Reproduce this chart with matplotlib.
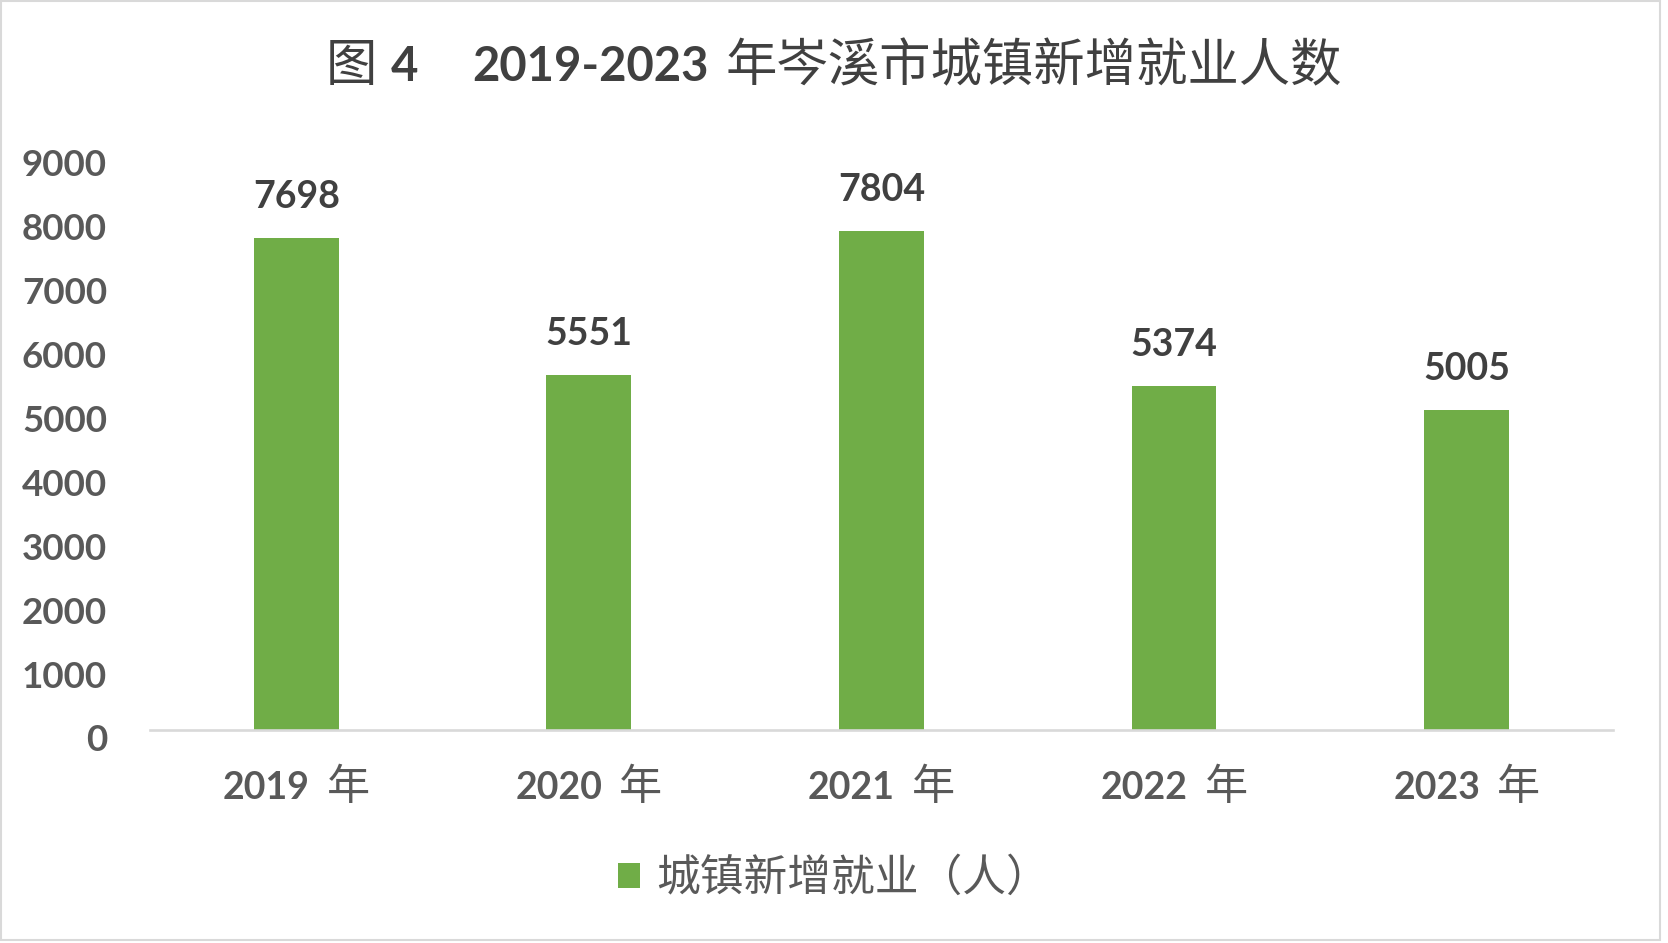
import numpy as np
import matplotlib
matplotlib.use("Agg")
import matplotlib.pyplot as plt
from matplotlib.patches import Rectangle
from matplotlib.transforms import ScaledTranslation
from matplotlib.font_manager import FontProperties

# -----------------------------
# Datos
# -----------------------------
years = ["2019", "2020", "2021", "2022", "2023"]
jobs = [7698, 5551, 7804, 5374, 5005]
yticks = list(range(0, 9001, 1000))
series_name = "城镇新增就业（人）"
title_parts = ["图", "4", "2019-2023", "年岑溪市城镇新增就业人数"]

# -----------------------------
# Estilo
# -----------------------------
LAT = "Lato"
CJK = "Noto Sans CJK SC"
GREEN = "#70AD47"
GRID = "#D9D9D9"
DARK = "#404040"
TICK = "#595959"
DPI = 100

fig = plt.figure(figsize=(16.68, 9.43), dpi=DPI)
px = fig.dpi_scale_trans
ax = fig.add_axes([0.0899, 0.2259, 0.8771, 0.6103])

x = np.arange(len(years))
bars = ax.bar(x, jobs, width=0.29, color=GREEN, zorder=2, label=series_name)
ax.set_xlim(-0.5, len(years) - 0.5)
ax.set_ylim(0, 9000)

for s in ["top", "right", "left"]:
    ax.spines[s].set_visible(False)
ax.spines["bottom"].set_color(GRID)
ax.spines["bottom"].set_linewidth(1.9)

# eje y
ax.set_yticks(yticks, [str(v) for v in yticks], fontfamily=LAT,
              fontweight="bold", fontsize=26.5, color=TICK)
ax.tick_params(axis="y", length=0, pad=31)
for lab in ax.get_yticklabels():
    lab.set_transform(lab.get_transform() + ScaledTranslation(0, -8 / DPI, px))

# eje x
ax.set_xticks(x, years, fontfamily=LAT, fontweight="bold", fontsize=27,
              color=TICK, va="baseline")
ax.tick_params(axis="x", length=0, pad=50)

# etiquetas de datos
for xi, v in zip(x, jobs):
    ax.annotate(str(v), (xi, v), xytext=(0, 30), textcoords="offset pixels",
                ha="center", va="baseline", fontfamily=LAT, fontweight="bold",
                fontsize=27, color=DARK)

# leyenda
fig.legend(handles=[bars], loc="center", bbox_to_anchor=(0.5, 0.069),
           frameon=False, prop=FontProperties(family=CJK, size=31.5),
           handlelength=0.5, handleheight=0.5, handletextpad=0.36,
           labelcolor=TICK)

# borde del gráfico
fig.add_artist(Rectangle((0.0006, 0.0032), 0.9946, 0.9958, transform=fig.transFigure,
                         fill=False, ec=GRID, lw=1.5))

fig.canvas.draw()
r = fig.canvas.get_renderer()

# "年" junto a cada año
gap = 17
for i, lab in enumerate(ax.get_xticklabels()):
    wd = lab.get_window_extent(r).width
    nian = ax.text(i, 0, "年", transform=ax.get_xaxis_transform(), ha="left",
                   va="baseline", fontfamily=CJK, fontsize=31, color=TICK)
    wn = nian.get_window_extent(r).width
    shift = (gap + wn) / 2
    lab.set_transform(lab.get_transform() + ScaledTranslation(-shift / DPI, 0, px))
    nian.set_transform(ax.get_xaxis_transform()
                       + ScaledTranslation((wd / 2 - shift + gap) / DPI, -70 / DPI, px))

# título con pesos mezclados
styles = [(CJK, "normal", 37), (LAT, "bold", 34), (LAT, "bold", 34), (CJK, "normal", 37)]
gaps = [13, 54, 17, 0]
texts = []
for txt, (fam, w, size) in zip(title_parts, styles):
    t = fig.text(0, 0.914, txt, ha="left", va="baseline", fontfamily=fam,
                 fontweight=w, fontsize=size, color=DARK)
    texts.append(t)
widths = [t.get_window_extent(r).width for t in texts]
total = sum(widths) + sum(gaps[:-1])
cur = fig.bbox.width * 0.5 - total / 2
for t, w, g in zip(texts, widths, gaps):
    t.set_x(cur / fig.bbox.width)
    cur += w + g

fig.savefig("out.png", dpi=DPI)
